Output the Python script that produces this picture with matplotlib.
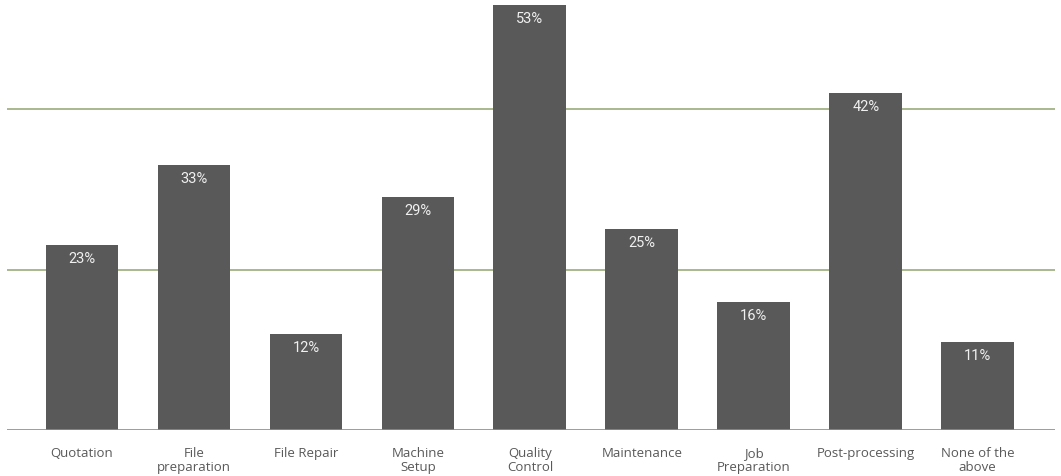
import numpy as np
import matplotlib
matplotlib.use("Agg")
import matplotlib.pyplot as plt

# data
categories = ["Quotation", "File\npreparation", "File Repair", "Machine\nSetup",
              "Quality\nControl", "Maintenance", "Job\nPreparation",
              "Post-processing", "None of the\nabove"]
values = [23, 33, 12, 29, 53, 25, 16, 42, 11]
gridlines = [20, 40]

bar_color = "#595959"
grid_color = "#9aab7a"
text_color = "#595959"

fig = plt.figure(figsize=(10.61, 4.76), dpi=100)
ax = fig.add_axes([7/1061, 46/476, 1048/1061, 430/476])

x = np.arange(len(categories))
bars = ax.bar(x, values, width=0.65, color=bar_color, zorder=3)

for g in gridlines:
    ax.axhline(g, color=grid_color, lw=1.2, zorder=1)
ax.axhline(0, color="#8c8c8c", lw=1.2, zorder=4)

for b, v in zip(bars, values):
    ax.annotate(f"{v}%", (b.get_x() + b.get_width()/2, v),
                xytext=(0, -10), textcoords="offset points",
                ha="center", va="center", color="#f0f0f0",
                fontsize=10.5, family="Roboto", zorder=5)

ax.set_xlim(-0.67, len(categories) - 1 + 0.69)
ax.set_ylim(0, 53.6)
ax.set_xticks(x)
ax.set_xticklabels(categories, fontsize=9.5, family="Open Sans",
                   color=text_color, linespacing=1.1)
ax.tick_params(axis="x", length=0, pad=12)
ax.set_yticks([])
for s in ax.spines.values():
    s.set_visible(False)

fig.savefig("out.png", dpi=100)
